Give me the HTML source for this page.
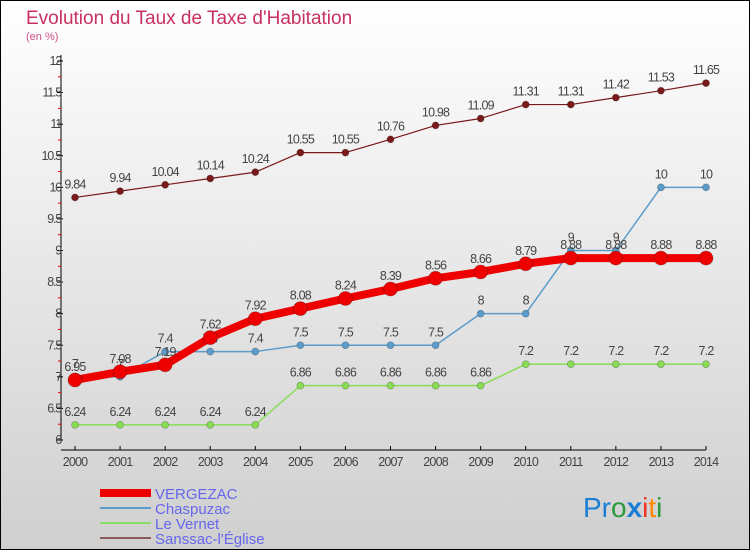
<!DOCTYPE html>
<html><head><meta charset="utf-8"><style>
body{margin:0}
svg{display:block;font-family:"Liberation Sans",sans-serif}
</style></head><body>
<svg id="c" width="750" height="550" xmlns="http://www.w3.org/2000/svg">
<defs><linearGradient id="bg" x1="0" y1="0" x2="0" y2="1"><stop offset="0" stop-color="#ffffff"/><stop offset="1" stop-color="#cfcfcf"/></linearGradient></defs>
<rect x="0.5" y="0.5" width="749" height="549" fill="url(#bg)" stroke="#000"/>
<text x="26" y="24" font-size="19" fill="#c8305f">Evolution du Taux de Taxe d'Habitation</text>
<text x="26" y="40" font-size="11" fill="#d0508a">(en %)</text>
<g id="axes"></g><g id="series"></g>
<g>
<rect x="100" y="489" width="51" height="8" fill="#ee0000"/>
<text x="155" y="499" font-size="15" fill="#6666ee">VERGEZAC</text>
<line x1="100" y1="508" x2="151" y2="508" stroke="#5b9ccb" stroke-width="2"/>
<text x="155" y="514" font-size="15" fill="#6666ee">Chaspuzac</text>
<line x1="100" y1="523" x2="151" y2="523" stroke="#88dd66" stroke-width="2"/>
<text x="155" y="529" font-size="15" fill="#6666ee">Le Vernet</text>
<line x1="100" y1="538" x2="151" y2="538" stroke="#8b5a5a" stroke-width="2"/>
<text x="155" y="544" font-size="15" fill="#6666ee">Sanssac-l'Église</text>
</g>
<text x="583" y="517" font-size="28"><tspan fill="#1a7fd4">Pr</tspan><tspan fill="#2a9a3a">o</tspan><tspan fill="#1a7fd4" font-weight="bold">x</tspan><tspan fill="#ee3322">i</tspan><tspan fill="#ff8800">t</tspan><tspan fill="#2a9a3a">i</tspan></text>
</svg>
<script>
const years=[2000,2001,2002,2003,2004,2005,2006,2007,2008,2009,2010,2011,2012,2013,2014];
const vergezac=[6.95,7.08,7.19,7.62,7.92,8.08,8.24,8.39,8.56,8.66,8.79,8.88,8.88,8.88,8.88];
const chaspuzac=[7,7,7.4,7.4,7.4,7.5,7.5,7.5,7.5,8,8,9,9,10,10];
const leVernet=[6.24,6.24,6.24,6.24,6.24,6.86,6.86,6.86,6.86,6.86,7.2,7.2,7.2,7.2,7.2];
const sanssac=[9.84,9.94,10.04,10.14,10.24,10.55,10.55,10.76,10.98,11.09,11.31,11.31,11.42,11.53,11.65];
const yTicks=[6,6.5,7,7.5,8,8.5,9,9.5,10,10.5,11,11.5,12];
const NS="http://www.w3.org/2000/svg";
const x=i=>75+i*(706-75)/(years.length-1);
const y=v=>440-(v-6)*(440-61)/6;
function el(t,a,p){const e=document.createElementNS(NS,t);for(const k in a)e.setAttribute(k,a[k]);p.appendChild(e);return e;}
const ax=document.getElementById('axes'),se=document.getElementById('series');
const yl=el('line',{x1:61,y1:55,x2:61,y2:440,stroke:'#000'},ax);


const xl=el('line',{x1:61,y1:450,x2:706,y2:450,stroke:'#000'},ax);


yTicks.forEach((v,i)=>{
 el('line',{x1:57,y1:y(v),x2:63,y2:y(v),stroke:'#000'},ax);
 if(i<yTicks.length-1) el('line',{x1:58,y1:y(v+0.25),x2:61,y2:y(v+0.25),stroke:'#e00'},ax);
 const t=el('text',{x:61,y:y(v)+4,'font-size':12.5,fill:'#444','text-anchor':'end','letter-spacing':'-1.2'},ax);
 t.textContent=String(v);
 
 
});
years.forEach((yr,i)=>{
 el('line',{x1:x(i),y1:446,x2:x(i),y2:450,stroke:'#000'},ax);
 const t=el('text',{x:x(i),y:466,'font-size':12.5,fill:'#444','text-anchor':'middle','letter-spacing':'-0.8'},ax);
 t.textContent=yr;
 
 
});
function series(vals,color,w,r,name){
 const g=el('g',{},se);
 
 
 el('polyline',{points:vals.map((v,i)=>x(i)+','+y(v)).join(' '),fill:'none',stroke:color,'stroke-width':w,'stroke-linejoin':'round'},g);
 vals.forEach((v,i)=>{
  const c=el('circle',{cx:x(i),cy:y(v),r:r,fill:color,stroke:'rgba(0,0,0,0.25)','stroke-width':0.8},g);
  
  
  const t=el('text',{x:x(i),y:y(v)-9,'font-size':12.5,fill:'#444','text-anchor':'middle','letter-spacing':'-0.8'},g);
  t.textContent=String(v);
  
  
 });
}
series(leVernet,'#88dd55',1.5,3.5,'le-vernet');
series(chaspuzac,'#5b9ccb',1.5,3.5,'chaspuzac');
series(sanssac,'#7a1a1a',1.2,3.5,'sanssac');
series(vergezac,'#ee0000',8,7,'vergezac');
</script>
</body></html>
